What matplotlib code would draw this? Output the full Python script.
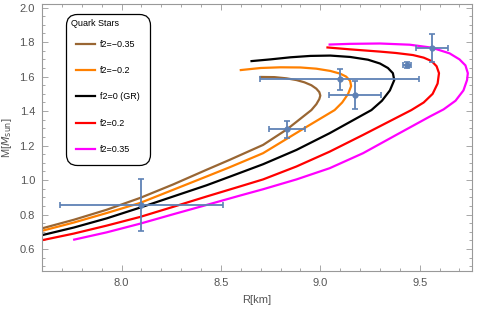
import matplotlib
matplotlib.use("Agg")
import matplotlib.pyplot as plt
from matplotlib.ticker import MultipleLocator, FormatStrFormatter

plt.rcParams['font.family'] = ['Liberation Sans', 'DejaVu Sans']

# ---- data ----
labels = ["f2=\u22120.35", "f2=\u22120.2", "f2=0 (GR)", "f2=0.2", "f2=0.35"]
colors = ["#996633", "#FF8000", "#000000", "#FF0000", "#FF00FF"]

R_m035 = [7.59, 7.76, 7.925, 8.092, 8.26, 8.428, 8.545, 8.712, 8.833, 8.955, 8.98, 8.995, 9.00, 8.995, 8.98, 8.955, 8.92, 8.88, 8.83, 8.77, 8.70]
M_m035 = [0.717, 0.77, 0.828, 0.896, 0.975, 1.06, 1.118, 1.204, 1.295, 1.406, 1.44, 1.47, 1.49, 1.51, 1.53, 1.55, 1.567, 1.58, 1.59, 1.597, 1.598]

R_m02 = [7.59, 7.76, 7.925, 8.092, 8.26, 8.428, 8.545, 8.712, 8.905, 9.072, 9.11, 9.14, 9.155, 9.15, 9.13, 9.10, 9.05, 8.98, 8.90, 8.80, 8.70, 8.60]
M_m02 = [0.703, 0.754, 0.809, 0.867, 0.944, 1.021, 1.075, 1.156, 1.291, 1.406, 1.45, 1.50, 1.545, 1.575, 1.60, 1.617, 1.633, 1.646, 1.653, 1.654, 1.650, 1.638]

R_0 = [7.59, 7.76, 7.925, 8.092, 8.26, 8.428, 8.545, 8.712, 8.88, 9.047, 9.257, 9.31, 9.35, 9.372, 9.365, 9.34, 9.30, 9.24, 9.15, 9.05, 8.95, 8.85, 8.75, 8.654]
M_0 = [0.678, 0.725, 0.778, 0.84, 0.905, 0.97, 1.02, 1.092, 1.175, 1.272, 1.406, 1.46, 1.52, 1.58, 1.62, 1.65, 1.676, 1.698, 1.714, 1.722, 1.72, 1.712, 1.70, 1.69]

R_p02 = [7.59, 7.76, 7.925, 8.092, 8.26, 8.428, 8.595, 8.712, 8.88, 9.047, 9.215, 9.458, 9.52, 9.565, 9.59, 9.597, 9.585, 9.56, 9.52, 9.466, 9.38, 9.30, 9.15, 9.036]
M_p02 = [0.649, 0.69, 0.736, 0.786, 0.845, 0.905, 0.963, 1.004, 1.079, 1.165, 1.262, 1.406, 1.45, 1.50, 1.56, 1.62, 1.66, 1.69, 1.71, 1.725, 1.737, 1.745, 1.758, 1.769]

R_p035 = [7.762, 7.925, 8.092, 8.26, 8.428, 8.595, 8.712, 8.88, 9.047, 9.215, 9.382, 9.55, 9.62, 9.68, 9.72, 9.738, 9.742, 9.73, 9.70, 9.65, 9.56, 9.45, 9.30, 9.15, 9.047]
M_p035 = [0.655, 0.697, 0.747, 0.802, 0.856, 0.91, 0.947, 1.004, 1.069, 1.156, 1.262, 1.368, 1.41, 1.46, 1.52, 1.58, 1.62, 1.665, 1.70, 1.735, 1.768, 1.785, 1.792, 1.79, 1.786]

obs_R = [8.10, 8.833, 9.097, 9.176, 9.436, 9.56]
obs_M = [0.854, 1.295, 1.584, 1.495, 1.667, 1.766]
obs_dR = [0.41, 0.09, 0.40, 0.13, 0.02, 0.08]
obs_dM = [0.15, 0.048, 0.06, 0.081, 0.015, 0.08]

curves = [(R_m035, M_m035), (R_m02, M_m02), (R_0, M_0), (R_p02, M_p02), (R_p035, M_p035)]

# ---- figure ----
fig = plt.figure(figsize=(4.78, 3.12), dpi=100)
ax = fig.add_axes([42/478, 41/312, 430/478, 267/312])

for (R, M), c, lab in zip(curves, colors, labels):
    ax.plot(R, M, color=c, lw=1.6, label=lab, solid_joinstyle='round')

ax.errorbar(obs_R, obs_M, xerr=obs_dR, yerr=obs_dM, fmt='o', color='#5E81B5',
            ms=3.5, elinewidth=1.3, capsize=2.5, capthick=1.2, zorder=5)

ax.set_xlim(7.6, 9.763)
ax.set_ylim(0.473, 2.021)
ax.xaxis.set_major_locator(MultipleLocator(0.5))
ax.xaxis.set_minor_locator(MultipleLocator(0.1))
ax.yaxis.set_major_locator(MultipleLocator(0.2))
ax.yaxis.set_minor_locator(MultipleLocator(0.05))
ax.xaxis.set_major_formatter(FormatStrFormatter('%.1f'))
ax.yaxis.set_major_formatter(FormatStrFormatter('%.1f'))

gray = '#999999'
for s in ax.spines.values():
    s.set_color(gray)
    s.set_linewidth(0.8)
ax.tick_params(which='both', direction='in', top=True, right=True, color=gray,
               labelcolor='#555555', labelsize=8, width=0.6)
ax.tick_params(which='major', length=4, pad=5)
ax.tick_params(which='minor', length=2.2)

ax.set_xlabel('R[km]', color='#555555', fontsize=8, labelpad=5)
ax.set_ylabel('M[$M_{\\rm sun}$]', color='#555555', fontsize=8, labelpad=4)

leg = ax.legend(loc='upper left', bbox_to_anchor=(0.056, 0.9625), title='Quark Stars',
                fontsize=6.5, title_fontsize=6.5, frameon=True, fancybox=True,
                edgecolor='black', framealpha=1, handlelength=2.0, handletextpad=0.6,
                labelspacing=1.92, borderpad=0.6, borderaxespad=0, alignment='left')
leg._legend_handle_box.pad = 3.6
leg._legend_box.sep = 4.6
leg.get_frame().set_linewidth(0.9)
leg.get_frame().set_boxstyle('round,pad=0,rounding_size=1.2')

fig.savefig('out.png', dpi=100)
